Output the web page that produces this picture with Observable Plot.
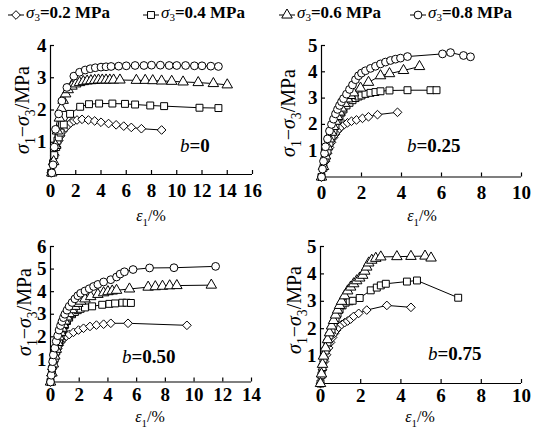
<!DOCTYPE html>
<html><head><meta charset="utf-8">
<script src="https://cdn.jsdelivr.net/npm/d3@7"></script>
<script src="https://cdn.jsdelivr.net/npm/@observablehq/plot@0.6"></script>
<style>
body{margin:0;background:#fff;}
#root{position:relative;width:537px;height:434px;overflow:hidden;font-family:"Liberation Serif","Times New Roman",serif;color:#000;}
.panel{position:absolute;}
.leg{position:absolute;top:3px;font-size:17px;white-space:nowrap;display:flex;align-items:center;line-height:20px;}
.leg svg{margin-right:2px;}
.leg i{font-weight:normal;}
.leg sub{font-size:11px;vertical-align:-3px;font-weight:normal;}
</style></head><body><div id="root"></div>
<script>
// ---------- data ----------
const seriesNames = ["0.2", "0.4", "0.6", "0.8"];          // σ3 (MPa)
const seriesSymbols = ["diamond2", "square", "triangle", "circle"];
const panelB = ["0", "0.25", "0.50", "0.75"];

// b = 0
const b0_s02 = [[0.05,0.05],[0.2,0.3],[0.35,0.6],[0.5,0.85],[0.65,1.05],[0.8,1.2],[1.0,1.35],[1.2,1.45],[1.4,1.53],[1.6,1.6],[1.85,1.66],[2.1,1.69],[2.5,1.71],[3.0,1.69],[3.5,1.66],[4.0,1.62],[4.6,1.58],[5.2,1.54],[5.8,1.5],[6.4,1.46],[7.2,1.42],[8.8,1.38]];
const b0_s04 = [[0.05,0.05],[0.2,0.35],[0.3,0.6],[0.45,0.85],[0.55,1.05],[0.65,1.15],[0.8,1.3],[1.05,1.55],[1.55,1.88],[2.35,2.1],[3.05,2.18],[3.85,2.2],[4.9,2.2],[5.9,2.19],[6.7,2.17],[7.9,2.14],[9.0,2.12],[11.8,2.07],[13.3,2.06]];
const b0_s06 = [[0.1,0.05],[0.25,0.4],[0.4,0.9],[0.55,1.35],[0.7,1.75],[0.85,2.05],[1.0,2.3],[1.2,2.5],[1.4,2.63],[1.7,2.74],[2.0,2.81],[2.3,2.85],[2.6,2.88],[2.9,2.9],[3.2,2.91],[3.5,2.92],[3.8,2.93],[4.1,2.93],[4.4,2.93],[4.7,2.93],[5.0,2.93],[5.5,2.93],[6.8,2.92],[7.5,2.92],[8.1,2.91],[8.8,2.9],[9.6,2.89],[10.5,2.87],[11.7,2.85],[12.9,2.82],[14.0,2.78]];
const b0_s08 = [[0.1,0.05],[0.2,0.3],[0.3,0.85],[0.4,1.4],[0.65,1.88],[0.9,2.28],[1.3,2.7],[1.85,3.05],[2.3,3.17],[2.75,3.24],[3.15,3.28],[3.55,3.31],[4.0,3.33],[4.4,3.34],[4.8,3.35],[5.4,3.36],[6.0,3.37],[6.7,3.38],[7.4,3.38],[8.0,3.39],[8.7,3.39],[9.4,3.38],[10.0,3.38],[10.7,3.38],[11.4,3.37],[12.0,3.37],[12.7,3.36],[13.3,3.35]];

// b = 0.25
const b25_s02 = [[0,0],[0.1,0.3],[0.2,0.6],[0.3,0.9],[0.4,1.12],[0.5,1.32],[0.6,1.5],[0.7,1.63],[0.8,1.75],[0.9,1.84],[1.0,1.92],[1.15,2.0],[1.3,2.06],[1.5,2.12],[1.75,2.17],[2.05,2.23],[2.35,2.29],[2.8,2.37],[3.8,2.46]];
const b25_s04 = [[0,0],[0.1,0.35],[0.2,0.7],[0.3,1.0],[0.4,1.3],[0.5,1.55],[0.6,1.78],[0.7,1.98],[0.8,2.15],[0.9,2.3],[1.0,2.45],[1.1,2.57],[1.25,2.72],[1.4,2.82],[1.55,2.92],[1.7,3.0],[1.85,3.06],[2.0,3.1],[2.2,3.16],[2.45,3.2],[2.7,3.23],[2.95,3.26],[3.4,3.29],[4.3,3.3],[5.45,3.3],[5.75,3.3]];
const b25_s06 = [[0,0],[0.1,0.4],[0.2,0.8],[0.3,1.15],[0.4,1.45],[0.5,1.7],[0.6,1.92],[0.7,2.12],[0.8,2.3],[0.9,2.47],[1.0,2.62],[1.15,2.8],[1.3,2.97],[1.45,3.1],[1.6,3.2],[1.95,3.38],[2.35,3.6],[2.95,3.85],[3.4,3.93],[4.1,4.05],[4.9,4.2]];
const b25_s08 = [[0,0],[0.05,0.3],[0.1,0.6],[0.15,0.9],[0.2,1.15],[0.3,1.45],[0.4,1.75],[0.5,2.0],[0.6,2.2],[0.7,2.4],[0.8,2.57],[0.9,2.72],[1.0,2.86],[1.1,2.98],[1.25,3.15],[1.4,3.33],[1.55,3.5],[1.7,3.7],[1.85,3.85],[2.0,3.95],[2.2,4.04],[2.45,4.13],[2.7,4.21],[2.95,4.3],[3.2,4.37],[3.45,4.43],[3.7,4.48],[3.95,4.52],[4.3,4.58],[6.05,4.68],[6.45,4.73],[7.1,4.62],[7.45,4.57]];

// b = 0.50
const b50_s02 = [[0,0],[0.05,0.3],[0.1,0.55],[0.2,0.85],[0.3,1.1],[0.4,1.3],[0.5,1.48],[0.6,1.63],[0.7,1.75],[0.8,1.85],[0.95,1.95],[1.1,2.03],[1.3,2.1],[1.6,2.2],[1.95,2.3],[2.3,2.38],[2.75,2.46],[3.2,2.52],[3.7,2.56],[4.2,2.6],[5.4,2.6],[9.5,2.51]];
const b50_s04 = [[0,0],[0.1,0.4],[0.2,0.75],[0.3,1.05],[0.4,1.35],[0.5,1.6],[0.6,1.82],[0.7,2.02],[0.8,2.2],[0.9,2.37],[1.0,2.52],[1.15,2.7],[1.3,2.85],[1.5,3.0],[1.7,3.1],[1.9,3.18],[2.1,3.24],[2.4,3.3],[2.9,3.35],[3.6,3.42],[4.1,3.46],[4.5,3.48],[5.0,3.51],[5.3,3.51],[5.6,3.5]];
const b50_s06 = [[0,0],[0.1,0.4],[0.2,0.8],[0.3,1.15],[0.4,1.45],[0.5,1.75],[0.6,2.0],[0.7,2.2],[0.8,2.38],[0.9,2.55],[1.0,2.7],[1.15,2.88],[1.3,3.03],[1.5,3.2],[1.7,3.35],[1.9,3.48],[2.1,3.58],[2.4,3.68],[2.8,3.78],[3.3,3.88],[3.7,3.95],[4.0,4.0],[4.3,4.03],[4.6,4.06],[5.5,4.12],[6.8,4.2],[7.3,4.22],[7.8,4.24],[8.3,4.26],[8.8,4.27],[11.2,4.29]];
const b50_s08 = [[0,0],[0.05,0.3],[0.1,0.6],[0.15,0.9],[0.2,1.2],[0.3,1.5],[0.4,1.8],[0.5,2.05],[0.6,2.3],[0.7,2.5],[0.8,2.68],[0.9,2.85],[1.0,3.0],[1.15,3.18],[1.3,3.35],[1.5,3.52],[1.7,3.68],[1.9,3.82],[2.1,3.93],[2.4,4.03],[2.7,4.13],[3.0,4.23],[3.3,4.32],[3.7,4.43],[4.2,4.53],[4.6,4.65],[4.85,4.78],[5.15,4.88],[5.75,4.98],[6.9,5.05],[8.6,5.06],[11.5,5.12]];

// b = 0.75
const b75_s02 = [[0,0],[0.05,0.25],[0.1,0.5],[0.2,0.8],[0.3,1.05],[0.4,1.3],[0.5,1.5],[0.6,1.68],[0.7,1.83],[0.8,1.95],[0.9,2.05],[1.05,2.15],[1.2,2.22],[1.35,2.28],[1.5,2.35],[1.65,2.45],[1.9,2.56],[2.3,2.68],[3.3,2.85],[4.5,2.78]];
const b75_s04 = [[0,0],[0.05,0.3],[0.1,0.6],[0.15,0.9],[0.25,1.2],[0.35,1.5],[0.45,1.75],[0.55,1.97],[0.65,2.18],[0.75,2.38],[0.85,2.55],[0.95,2.7],[1.1,2.85],[1.25,2.95],[1.45,3.0],[1.6,3.02],[1.95,3.12],[2.5,3.4],[2.8,3.5],[3.0,3.58],[3.25,3.64],[4.3,3.72],[4.8,3.76],[6.85,3.13]];
const b75_s06 = [[0,0],[0.05,0.35],[0.1,0.7],[0.15,1.0],[0.25,1.3],[0.35,1.6],[0.45,1.85],[0.55,2.1],[0.65,2.3],[0.75,2.5],[0.85,2.68],[0.95,2.85],[1.05,3.0],[1.2,3.2],[1.35,3.38],[1.5,3.52],[1.65,3.64],[1.8,3.75],[1.95,3.85],[2.1,3.95],[2.2,4.1],[2.3,4.25],[2.4,4.4],[2.55,4.5],[2.75,4.57],[3.0,4.62],[3.8,4.63],[4.5,4.64],[5.2,4.65],[5.5,4.58]];

// axis ticks
const xTicks16 = [0,2,4,6,8,10,12,14,16];
const xTicks10 = [0,2,4,6,8,10];
const xTicks14 = [0,2,4,6,8,10,12,14];
const yTicks4 = [1,2,3,4];
const yTicks5 = [1,2,3,4,5];
const yTicks6 = [1,2,3,4,5,6];

// ---------- layout ----------
const FONT = "'Liberation Serif','Times New Roman',serif";
const panels = [
  {b: panelB[0], series: [b0_s02, b0_s04, b0_s06, b0_s08], xTicks: xTicks16, yTicks: yTicks4,
   left: 0, top: 30, width: 268, height: 200, ml: 50, mr: 16, mt: 15, mb: 56, xpad: 13,
   ylab: [22, 80], xlab: [151, 191], blab: [180, 122]},
  {b: panelB[1], series: [b25_s02, b25_s04, b25_s06, b25_s08], xTicks: xTicks10, yTicks: yTicks5,
   left: 268, top: 30, width: 269, height: 200, ml: 53, mr: 16, mt: 15, mb: 53.5, xpad: 12,
   ylab: [20, 83], xlab: [154, 191], blab: [139, 122]},
  {b: panelB[2], series: [b50_s02, b50_s04, b50_s06, b50_s08], xTicks: xTicks14, yTicks: yTicks6,
   left: 0, top: 230, width: 268, height: 204, ml: 50, mr: 17, mt: 16, mb: 52.5, xpad: 9,
   ylab: [24, 82], xlab: [150, 192], blab: [122, 133]},
  {b: panelB[3], series: [b75_s02, b75_s04, b75_s06], xTicks: xTicks10, yTicks: yTicks5,
   left: 268, top: 230, width: 269, height: 204, ml: 52, mr: 16, mt: 16, mb: 51, xpad: 9,
   ylab: [26, 80], xlab: [152, 192], blab: [160, 130]}
];

const root = document.getElementById("root");

function rich(sel, parts, size) {
  parts.forEach(p => {
    const t = sel.append("tspan").text(p.t);
    t.attr("font-style", p.i ? "italic" : "normal");
    t.attr("font-weight", p.b ? "bold" : "normal");
    if (p.sub) t.attr("font-size", size * 0.68).attr("dy", size * 0.3);
    else t.attr("font-size", size);
    if (p.after) t.attr("dy", -size * 0.3);
  });
}

panels.forEach(P => {
  const rows = [];
  P.series.forEach((arr, i) => arr.forEach(([x, y]) => rows.push({s: seriesNames[i], x, y})));
  const svg = Plot.plot({
    width: P.width, height: P.height,
    marginLeft: P.ml, marginRight: P.mr, marginTop: P.mt, marginBottom: P.mb,
    style: {fontFamily: FONT, fontSize: "19px", fontWeight: "bold", color: "#000", background: "transparent", overflow: "visible"},
    x: {domain: [0, P.xTicks[P.xTicks.length - 1]]},
    y: {domain: [0, P.yTicks[P.yTicks.length - 1]]},
    symbol: {domain: seriesNames, range: seriesSymbols},
    marks: [
      Plot.axisX({ticks: P.xTicks, tickSize: -4, tickPadding: P.xpad, label: null, tickFormat: d => d, strokeWidth: 1.2}),
      Plot.axisY({ticks: P.yTicks, tickSize: -4, tickPadding: 8, label: null, tickFormat: d => d, strokeWidth: 1.2}),
      Plot.ruleX([0], {stroke: "#000", strokeWidth: 1.2}),
      Plot.ruleY([0], {stroke: "#000", strokeWidth: 1.2}),
      Plot.line(rows, {x: "x", y: "y", z: "s", stroke: "#000", strokeWidth: 1}),
      Plot.dot(rows, {x: "x", y: "y", symbol: "s", r: 3.9, fill: "#fff", stroke: "#000", strokeWidth: 1})
    ]
  });
  const s = d3.select(svg);
  // y label
  const yl = s.append("text")
    .attr("transform", `translate(${P.ylab[0]},${P.ylab[1]}) rotate(-90)`)
    .attr("text-anchor", "middle").attr("dy", "0.35em")
    .attr("font-family", FONT).attr("fill", "#000");
  rich(yl, [{t: "σ", i: true}, {t: "1", sub: true}, {t: "−", after: true}, {t: "σ", i: true}, {t: "3", sub: true}, {t: "/MPa", after: true}], 20);
  // x label
  const xl = s.append("text")
    .attr("x", P.xlab[0]).attr("y", P.xlab[1])
    .attr("text-anchor", "middle").attr("font-family", FONT).attr("fill", "#000");
  rich(xl, [{t: "ε", i: true}, {t: "1", sub: true}, {t: "/%", after: true}], 16);
  // b label
  const bl = s.append("text")
    .attr("x", P.blab[0]).attr("y", P.blab[1])
    .attr("text-anchor", "start")
    .attr("font-family", FONT).attr("fill", "#000");
  rich(bl, [{t: "b", i: true}, {t: "=" + P.b, b: true}], 19);

  const wrap = document.createElement("div");
  wrap.className = "panel";
  wrap.style.left = P.left + "px";
  wrap.style.top = P.top + "px";
  wrap.appendChild(svg);
  root.appendChild(wrap);
});

// legend
const legendLeft = [8, 143, 279, 410];
seriesNames.forEach((name, i) => {
  const div = document.createElement("div");
  div.className = "leg";
  div.style.left = legendLeft[i] + "px";
  const r = 3.9;
  const sym = {diamond2: d3.symbolDiamond2, square: d3.symbolSquare, triangle: d3.symbolTriangle, circle: d3.symbolCircle}[seriesSymbols[i]];
  const path = d3.symbol(sym, Math.PI * r * r)();
  div.innerHTML = `<svg width="16" height="12" viewBox="-8 -6 16 12"><line x1="-8" x2="8" y1="0" y2="0" stroke="#000" stroke-width="1"/><path d="${path}" fill="#fff" stroke="#000" stroke-width="1"/></svg><span><i>σ</i><sub>3</sub><b>=${name} MPa</b></span>`;
  root.appendChild(div);
});
</script>
</body></html>
